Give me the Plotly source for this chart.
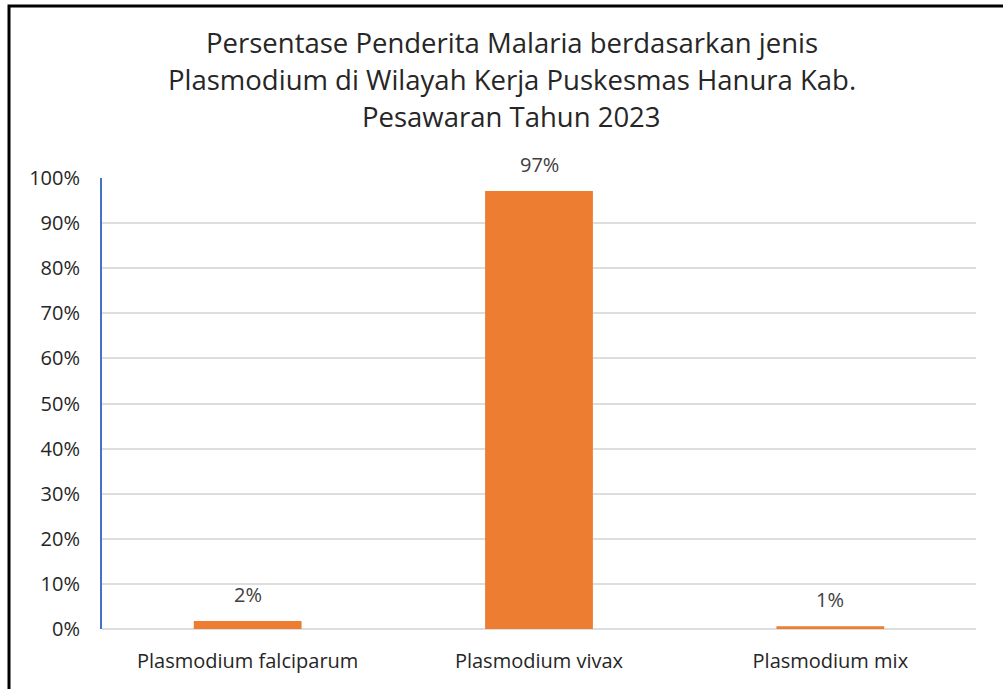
import plotly.graph_objects as go

categories = ["Plasmodium falciparum", "Plasmodium vivax", "Plasmodium mix"]
values = [0.018, 0.971, 0.006]
labels = ["2%", "97%", "1%"]
title_lines = [
    "Persentase Penderita Malaria berdasarkan jenis",
    "Plasmodium di Wilayah Kerja Puskesmas Hanura Kab.",
    "Pesawaran Tahun 2023",
]
y_ticks = [i / 10 for i in range(11)]
y_ticklabels = [f"{i*10}%" for i in range(11)]

FONT = "Open Sans"
W, H = 1003, 689
L, R, T, B = 102, 27, 178, 60
pw = W - L - R
ph = H - T - B

fig = go.Figure()
fig.add_trace(go.Bar(
    x=categories, y=values,
    marker=dict(color="#ED7D31", line=dict(width=0)),
    width=0.37,
    hoverinfo="x+y",
))

for c, v, t in zip(categories, values, labels):
    fig.add_annotation(x=c, y=v, text=t, showarrow=False, xref="x", yref="y",
                       yanchor="bottom", yshift=11,
                       font=dict(family=FONT, size=20, color="#404040"))

title_y = [42, 79, 116]
for line, yp in zip(title_lines, title_y):
    fig.add_annotation(x=((W / 2 + 10) - L) / pw, y=1 + (T - yp) / ph,
                       xref="paper", yref="paper", text=line,
                       showarrow=False, yanchor="middle", xanchor="center",
                       font=dict(family=FONT, size=27.5, color="#262626"))

fig.add_shape(type="rect", xref="paper", yref="paper",
              x0=(9 - L) / pw, x1=(1100 - L) / pw,
              y0=-(800 - H + B) / ph, y1=1 + (T - 6) / ph,
              line=dict(color="black", width=3), fillcolor="rgba(0,0,0,0)", layer="above")

fig.update_layout(
    width=W, height=H,
    margin=dict(l=L, r=R, t=T, b=B),
    plot_bgcolor="white", paper_bgcolor="white",
    showlegend=False,
    font=dict(family=FONT, color="#404040"),
)
fig.update_xaxes(
    showgrid=False, showline=False, zeroline=False,
    tickfont=dict(family=FONT, size=20, color="#262626"),
    ticklabelstandoff=18,
)
fig.update_yaxes(
    range=[0, 1.0], tickvals=y_ticks, ticktext=y_ticklabels,
    showgrid=True, gridcolor="#DDDDDD", gridwidth=1.5,
    zeroline=True, zerolinecolor="#DDDDDD", zerolinewidth=1.5,
    showline=True, linecolor="#4472C4", linewidth=2,
    tickfont=dict(family=FONT, size=20, color="#262626"),
    ticklabelstandoff=16,
)

fig.write_html("out.html",
               config={"displayModeBar": False},
               post_script="document.body.style.margin='0';document.body.style.overflow='hidden';")
